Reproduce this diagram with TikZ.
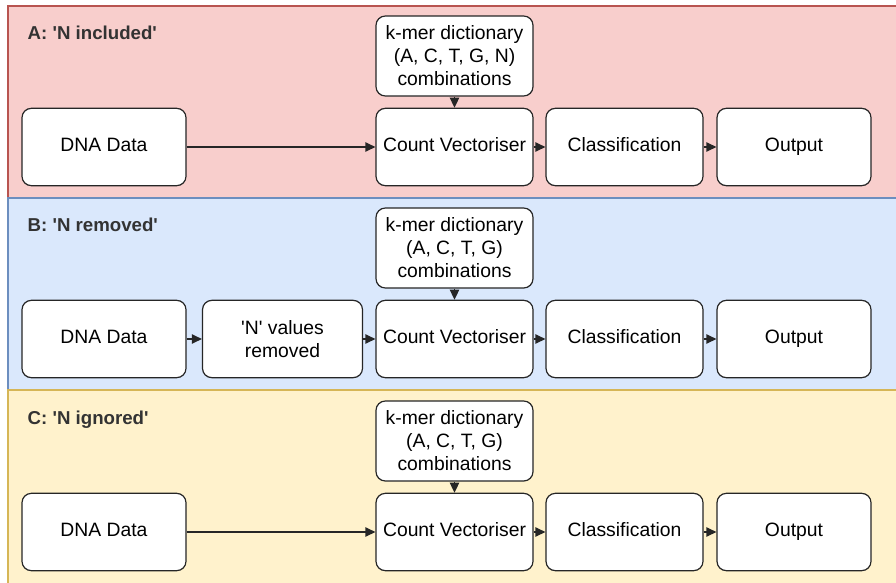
\documentclass[tikz,border=0pt]{standalone}
\usepackage{fontspec}
\setmainfont{Liberation Sans}
\usetikzlibrary{arrows.meta}

\definecolor{redfill}{HTML}{F8CECC}
\definecolor{redline}{HTML}{B85450}
\definecolor{bluefill}{HTML}{DAE8FC}
\definecolor{blueline}{HTML}{6C8EBF}
\definecolor{yellowfill}{HTML}{FFF2CC}
\definecolor{yellowline}{HTML}{D6B656}

\tikzset{
  box/.style={draw=black!85, line width=0.9pt, fill=white, rounded corners=7pt,
    minimum width=117.75pt, minimum height=58pt, align=center, inner sep=1pt,
    font=\fontsize{14.5}{17.25}\selectfont},
  oneline/.style={text height=1.6ex, text depth=0.45ex},
  title/.style={anchor=west, font=\fontsize{14}{17}\selectfont\bfseries, text=black!80},
  flow/.style={-{Triangle[length=7.5pt,width=7pt]}, line width=0.9pt, black!85}
}

\begin{document}
\begin{tikzpicture}[x=0.75pt, y=-0.75pt]
    \useasboundingbox (0,0) rectangle (896,582);
    % panels
    \draw[fill=redfill, draw=redline, line width=0.9pt] (8,6) rectangle (905,198);
    \draw[fill=bluefill, draw=blueline, line width=0.9pt] (8,198) rectangle (905,390);
    \draw[fill=yellowfill, draw=yellowline, line width=0.9pt] (8,390) rectangle (905,590);

    % A: N included
    \node[title] (ta) at (23,33) {A: \textquotesingle N included\textquotesingle};
    \node[box, oneline, minimum width=123pt] (dnaA) at (104,147) {DNA Data};
    \node[box, minimum height=60pt] (kmerA) at (454.5,56) {k-mer dictionary\\(A, C, T, G, N)\\combinations};
    \node[box, oneline] (cvA) at (454.5,147) {Count Vectoriser};
    \node[box, oneline] (clsA) at (624.5,147) {Classification};
    \node[box, oneline, minimum width=115.5pt] (outA) at (794,147) {Output};
    \draw[flow] (dnaA) -- (cvA);
    \draw[flow] (kmerA) -- (cvA);
    \draw[flow] (cvA) -- (clsA);
    \draw[flow] (clsA) -- (outA);

    % B: N removed
    \node[title] (tb) at (23,225) {B: \textquotesingle N removed\textquotesingle};
    \node[box, oneline, minimum width=123pt] (dnaB) at (104,339) {DNA Data};
    \node[box, minimum width=120pt] (nvalB) at (282.5,339) {\textquotesingle N\textquotesingle{} values\\removed};
    \node[box, minimum height=60pt] (kmerB) at (454.5,248) {k-mer dictionary\\(A, C, T, G)\\combinations};
    \node[box, oneline] (cvB) at (454.5,339) {Count Vectoriser};
    \node[box, oneline] (clsB) at (624.5,339) {Classification};
    \node[box, oneline, minimum width=115.5pt] (outB) at (794,339) {Output};
    \draw[flow] (dnaB) -- (nvalB);
    \draw[flow] (nvalB) -- (cvB);
    \draw[flow] (kmerB) -- (cvB);
    \draw[flow] (cvB) -- (clsB);
    \draw[flow] (clsB) -- (outB);

    % C: N ignored
    \node[title] (tc) at (23,420) {C: \textquotesingle N ignored\textquotesingle};
    \node[box, oneline, minimum width=123pt] (dnaC) at (104,532) {DNA Data};
    \node[box, minimum height=60pt] (kmerC) at (454.5,441) {k-mer dictionary\\(A, C, T, G)\\combinations};
    \node[box, oneline] (cvC) at (454.5,532) {Count Vectoriser};
    \node[box, oneline] (clsC) at (624.5,532) {Classification};
    \node[box, oneline, minimum width=115.5pt] (outC) at (794,532) {Output};
    \draw[flow] (dnaC) -- (cvC);
    \draw[flow] (kmerC) -- (cvC);
    \draw[flow] (cvC) -- (clsC);
    \draw[flow] (clsC) -- (outC);
\end{tikzpicture}
\end{document}
